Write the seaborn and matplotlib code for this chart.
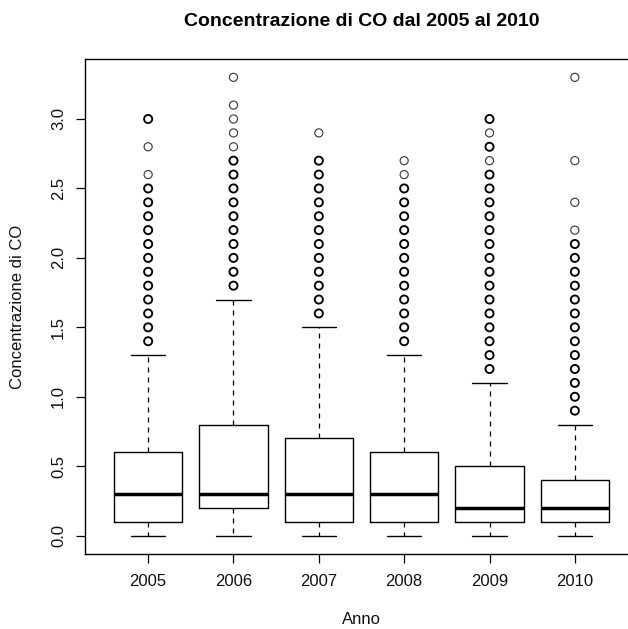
import matplotlib
matplotlib.use("Agg")
import matplotlib.pyplot as plt
import seaborn as sns
import pandas as pd

# ---- data ----
years = ["2005", "2006", "2007", "2008", "2009", "2010"]
whisker_lo = [0.0, 0.0, 0.0, 0.0, 0.0, 0.0]
q1 = [0.1, 0.2, 0.1, 0.1, 0.1, 0.1]
median = [0.3, 0.3, 0.3, 0.3, 0.2, 0.2]
q3 = [0.6, 0.8, 0.7, 0.6, 0.5, 0.4]
whisker_hi = [1.3, 1.7, 1.5, 1.3, 1.1, 0.8]

out_2005 = [1.4, 1.5, 1.6, 1.7, 1.8, 1.9, 2.0, 2.1, 2.2, 2.3, 2.4, 2.5, 2.6, 2.8, 3.0]
out_2006 = [1.8, 1.9, 2.0, 2.1, 2.2, 2.3, 2.4, 2.5, 2.6, 2.7, 2.8, 2.9, 3.0, 3.1, 3.3]
out_2007 = [1.6, 1.7, 1.8, 1.9, 2.0, 2.1, 2.2, 2.3, 2.4, 2.5, 2.6, 2.7, 2.9]
out_2008 = [1.4, 1.5, 1.6, 1.7, 1.8, 1.9, 2.0, 2.1, 2.2, 2.3, 2.4, 2.5, 2.6, 2.7]
out_2009 = [1.2, 1.3, 1.4, 1.5, 1.6, 1.7, 1.8, 1.9, 2.0, 2.1, 2.2, 2.3, 2.4,
            2.5, 2.6, 2.7, 2.8, 2.9, 3.0]
out_2010 = [0.9, 1.0, 1.1, 1.2, 1.3, 1.4, 1.5, 1.6, 1.7, 1.8, 1.9, 2.0, 2.1,
            2.2, 2.4, 2.7, 3.3]
# outliers that look like single observations (thin circles)
single_2005 = [2.6, 2.8]
single_2006 = [2.8, 2.9, 3.0, 3.1, 3.3]
single_2007 = [2.9]
single_2008 = [2.6, 2.7]
single_2009 = [2.7, 2.9]
single_2010 = [2.2, 2.4, 2.7, 3.3]

outliers = [out_2005, out_2006, out_2007, out_2008, out_2009, out_2010]
singles = [single_2005, single_2006, single_2007, single_2008, single_2009, single_2010]

title = "Concentrazione di CO dal 2005 al 2010"
xlabel = "Anno"
ylabel = "Concentrazione di CO"
yticks = [0.0, 0.5, 1.0, 1.5, 2.0, 2.5, 3.0]

# ---- styling ----
sns.set_style("ticks")
plt.rcParams["font.family"] = ["Liberation Sans", "DejaVu Sans"]

W, H = 628, 629
fig = plt.figure(figsize=(W / 100, H / 100), dpi=100)
left, right, top, bottom = 85, 638, 59, 554
ax = fig.add_axes([left / W, 1 - bottom / H, (right - left) / W, (bottom - top) / H])
ax.set_facecolor("white")

stats = []
for i, y in enumerate(years):
    stats.append(dict(med=median[i], q1=q1[i], q3=q3[i],
                      whislo=whisker_lo[i], whishi=whisker_hi[i],
                      fliers=[], label=y))

ax.bxp(stats, positions=list(range(len(years))), widths=0.8, capwidths=0.4,
       showfliers=False, patch_artist=False,
       boxprops=dict(color="black", linewidth=1.0),
       whiskerprops=dict(color="black", linewidth=0.9, linestyle=(0, (4, 4))),
       capprops=dict(color="black", linewidth=1.0),
       medianprops=dict(color="black", linewidth=2.5, solid_capstyle="butt"))

rows = []
for i, y in enumerate(years):
    for v in outliers[i]:
        rows.append(dict(pos=i, value=v, single=v in singles[i]))
df = pd.DataFrame(rows)

sns.scatterplot(data=df[~df["single"]], x="pos", y="value", ax=ax,
                marker="o", s=34, facecolor="none", edgecolor="black",
                linewidth=1.35, legend=False, zorder=3)
sns.scatterplot(data=df[df["single"]], x="pos", y="value", ax=ax,
                marker="o", s=34, facecolor="none", edgecolor="#333333",
                linewidth=0.8, legend=False, zorder=3)

ax.set_xlim(-0.74, len(years) - 1 + 0.74)
ax.set_ylim(-0.132, 3.432)
ax.set_xticks(range(len(years)))
ax.set_xticklabels(years)
ax.set_yticks(yticks)
ax.set_yticklabels([f"{t:.1f}" for t in yticks], rotation=90, va="center")
ax.tick_params(axis="both", direction="out", length=6.5, width=0.9,
               color="black", labelsize=12, labelcolor="#111111")
ax.tick_params(axis="x", pad=8)
ax.tick_params(axis="y", pad=7)
ax.set_xlabel("")
ax.set_ylabel("")
for s in ax.spines.values():
    s.set_visible(True)
    s.set_color("black")
    s.set_linewidth(1.0)

fig.text(361.5 / W, 1 - 21 / H, title, ha="center", va="center",
         fontsize=14, fontweight="bold", color="black")
fig.text(361.5 / W, 1 - 620 / H, xlabel, ha="center", va="center", fontsize=12,
         color="#111111")
fig.text(18 / W, 1 - ((top + bottom) / 2) / H, ylabel, ha="center", va="center",
         rotation=90, fontsize=12, color="#111111")

fig.savefig("out.png", dpi=100, facecolor="white")
